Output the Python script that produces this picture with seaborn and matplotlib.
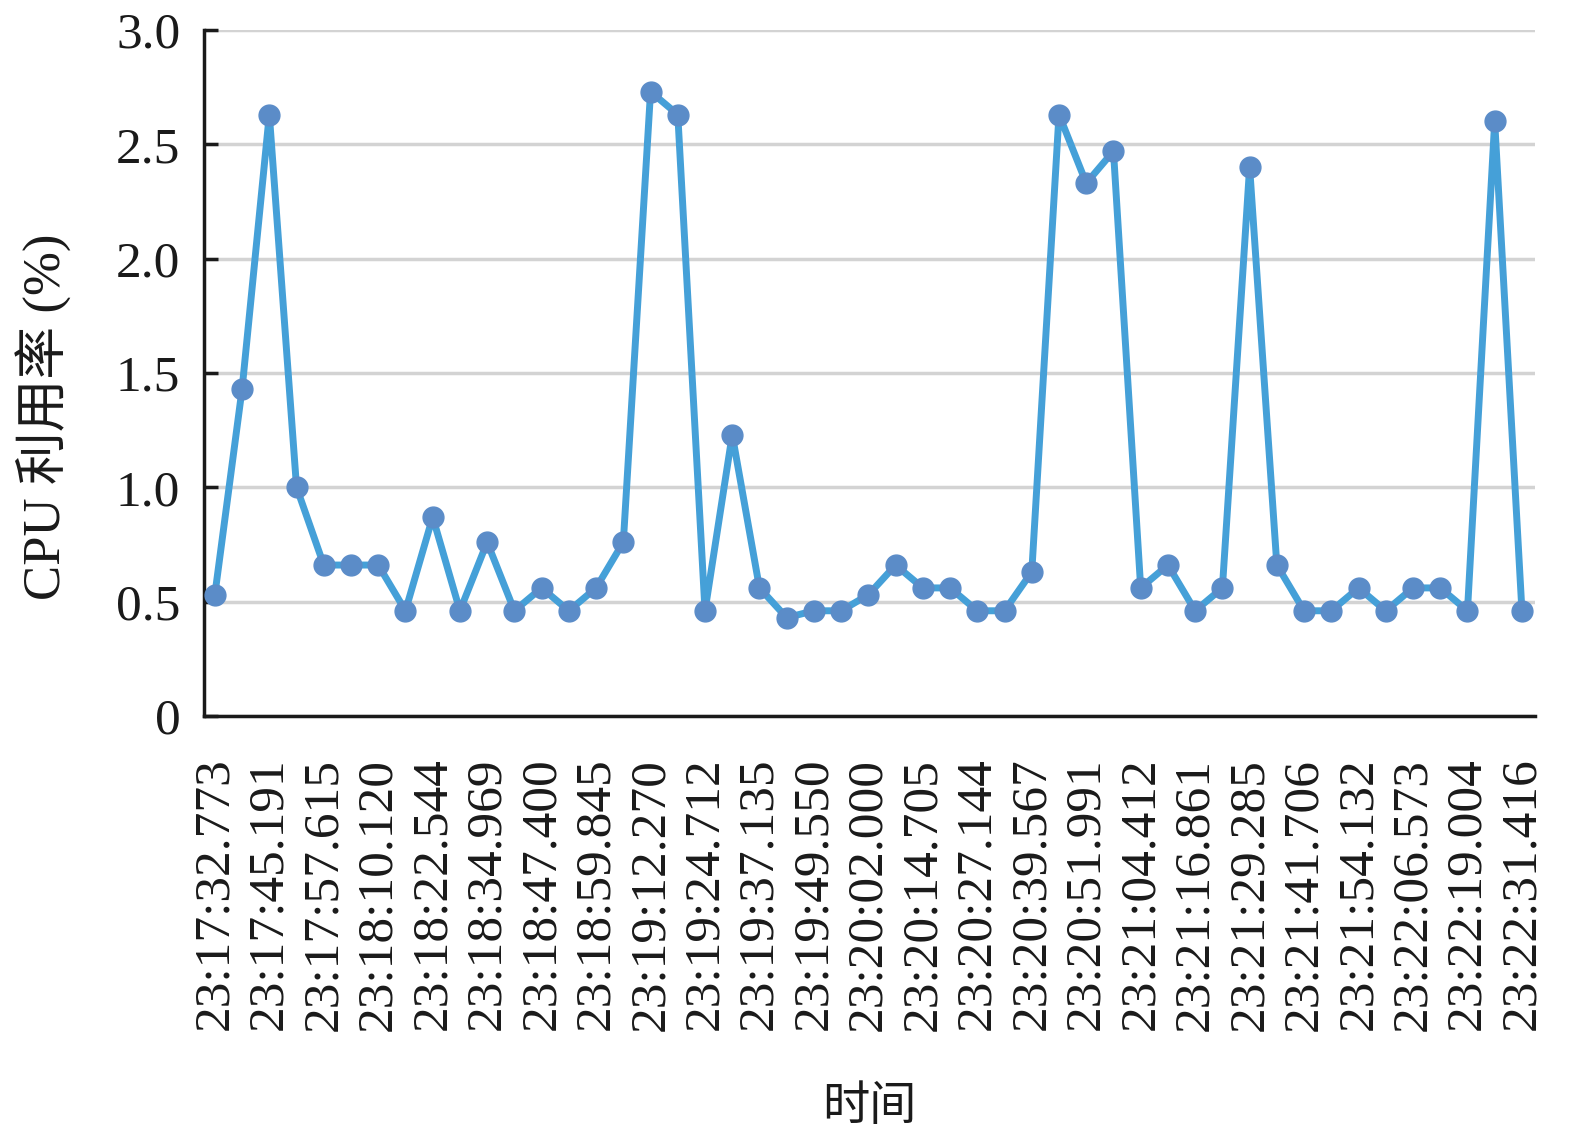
import matplotlib
matplotlib.use("Agg")
import matplotlib.pyplot as plt
import seaborn as sns
import pandas as pd
import numpy as np

tick_labels = [
    "23:17:32.773", "23:17:45.191", "23:17:57.615", "23:18:10.120", "23:18:22.544",
    "23:18:34.969", "23:18:47.400", "23:18:59.845", "23:19:12.270", "23:19:24.712",
    "23:19:37.135", "23:19:49.550", "23:20:02.000", "23:20:14.705", "23:20:27.144",
    "23:20:39.567", "23:20:51.991", "23:21:04.412", "23:21:16.861", "23:21:29.285",
    "23:21:41.706", "23:21:54.132", "23:22:06.573", "23:22:19.004", "23:22:31.416",
]

cpu = [
    0.53, 1.43, 2.63, 1.00, 0.66, 0.66, 0.66, 0.46, 0.87, 0.46,
    0.76, 0.46, 0.56, 0.46, 0.56, 0.76, 2.73, 2.63, 0.46, 1.23,
    0.56, 0.43, 0.46, 0.46, 0.53, 0.66, 0.56, 0.56, 0.46, 0.46,
    0.63, 2.63, 2.33, 2.47, 0.56, 0.66, 0.46, 0.56, 2.40, 0.66,
    0.46, 0.46, 0.56, 0.46, 0.56, 0.56, 0.46, 2.60, 0.46,
]

yticks = [0, 0.5, 1.0, 1.5, 2.0, 2.5, 3.0]
ytick_labels = ["0", "0.5", "1.0", "1.5", "2.0", "2.5", "3.0"]

df = pd.DataFrame({"idx": np.arange(len(cpu)), "cpu": cpu})

sns.set_theme(style="white")
fam = ["Liberation Serif", "Noto Sans CJK SC", "DejaVu Sans"]
plt.rcParams["font.family"] = fam

fig = plt.figure(figsize=(15.75, 11.3), dpi=100)
ax = fig.add_axes([0.1295, 0.3664, 0.9746 - 0.1295, 0.9735 - 0.3664])

sns.lineplot(data=df, x="idx", y="cpu", ax=ax, color="#45a0d8", linewidth=5,
             marker="o", markersize=15, markerfacecolor="#5b8cc8",
             markeredgecolor="#5b8cc8", markeredgewidth=1, zorder=3)

ax.set_xlim(-0.4, len(cpu) - 1 + 0.48)
ax.set_ylim(0, 3.0)
ax.set_yticks(yticks)
ax.set_yticklabels(ytick_labels)
ax.set_xticks(np.arange(0, len(cpu), 2))
ax.set_xticklabels(tick_labels, rotation=90)

ax.yaxis.grid(True, color="#d3d3d3", linewidth=2.5, zorder=0)
ax.xaxis.grid(False)
ax.set_axisbelow(True)

for s in ["top", "right"]:
    ax.spines[s].set_visible(False)
for s in ["left", "bottom"]:
    ax.spines[s].set_color("#1a1a1a")
    ax.spines[s].set_linewidth(2.5)

ax.tick_params(axis="y", direction="in", length=10, width=2.5, color="#1a1a1a",
               labelsize=37, pad=17, left=True)
ax.tick_params(axis="x", length=0, labelsize=37, pad=30)
for t in ax.get_xticklabels() + ax.get_yticklabels():
    t.set_color("#1a1a1a")

ax.set_xlabel("时间", fontsize=34, color="#1a1a1a")
ax.xaxis.set_label_coords(0.5, -0.540)
ax.set_ylabel("CPU 利用率 (%)", fontsize=38, color="#1a1a1a")
ax.yaxis.set_label_coords(-0.099, 0.436)

fig.savefig("out.png", dpi=100)
